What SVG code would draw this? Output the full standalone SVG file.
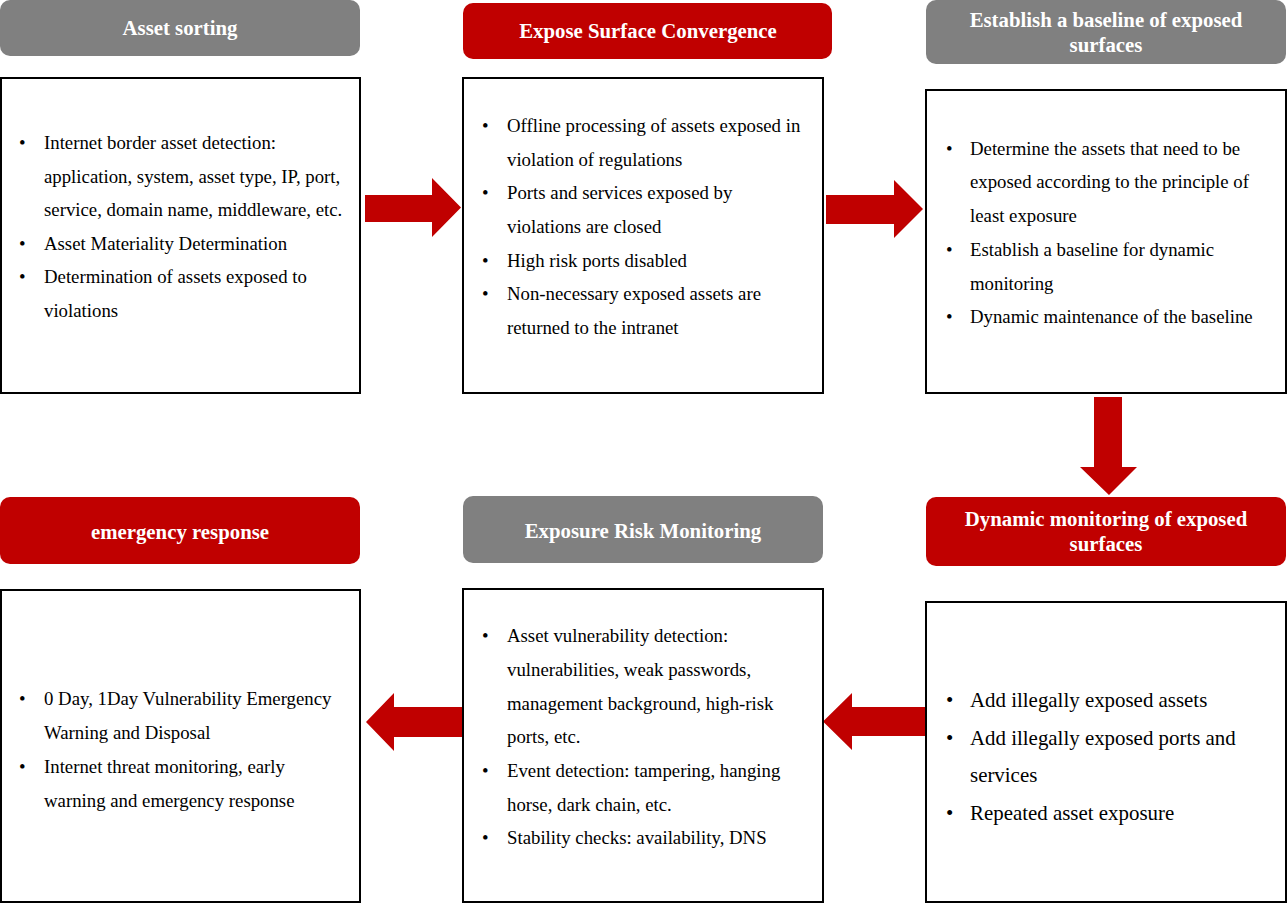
<svg xmlns="http://www.w3.org/2000/svg" width="1287" height="904" viewBox="0 0 1287 904">
<style>
.hg{fill:#808080}
.hr{fill:#C00000}
.ht{font-family:'Liberation Serif','Times New Roman',serif;font-weight:bold;font-size:20.8px;fill:#fff;text-anchor:middle}
.box{fill:#fff;stroke:#000;stroke-width:2}
.tx{font-family:'Liberation Serif','Times New Roman',serif;font-size:18.8px;fill:#000}
.tl{font-family:'Liberation Serif','Times New Roman',serif;font-size:20.9px;fill:#000}
.ar{fill:#C00000}
</style>
<rect width="1287" height="904" fill="#fff"/>
<g id="connectors">
<polygon class="ar" points="365,195 432,195 432,178 461,207.5 432,237 432,222 365,222"/>
<polygon class="ar" points="826,195 894,195 894,180 923,209 894,238 894,224 826,224"/>
<polygon class="ar" points="1094,397 1122,397 1122,467 1137,467 1109,495 1080,467 1094,467"/>
<polygon class="ar" points="925,707 852,707 852,693 823,721.5 852,750 852,736 925,736"/>
<polygon class="ar" points="462,707 394,707 394,693 366,722 394,751 394,737 462,737"/>
</g>
<g id="asset-sorting">
<rect class="hg" x="0" y="0" width="360" height="56" rx="10"/>
<text class="ht" x="180" y="35">Asset sorting</text>
<rect class="box" x="1" y="78" width="359" height="315"/>
<g class="tx">
<text x="19" y="149">•</text><text x="44" y="149">Internet border asset detection:</text>
<text x="44" y="183">application, system, asset type, IP, port,</text>
<text x="44" y="216">service, domain name, middleware, etc.</text>
<text x="19" y="250">•</text><text x="44" y="250">Asset Materiality Determination</text>
<text x="19" y="283">•</text><text x="44" y="283">Determination of assets exposed to</text>
<text x="44" y="317">violations</text>
</g>
</g>
<g id="expose-convergence">
<rect class="hr" x="463" y="3" width="369" height="56" rx="10"/>
<text class="ht" x="648" y="38">Expose Surface Convergence</text>
<rect class="box" x="463" y="78" width="360" height="315"/>
<g class="tx">
<text x="482" y="132">•</text><text x="507" y="132">Offline processing of assets exposed in</text>
<text x="507" y="166">violation of regulations</text>
<text x="482" y="199">•</text><text x="507" y="199">Ports and services exposed by</text>
<text x="507" y="233">violations are closed</text>
<text x="482" y="267">•</text><text x="507" y="267">High risk ports disabled</text>
<text x="482" y="300">•</text><text x="507" y="300">Non-necessary exposed assets are</text>
<text x="507" y="334">returned to the intranet</text>
</g>
</g>
<g id="baseline">
<rect class="hg" x="926" y="0" width="360" height="64" rx="10"/>
<text class="ht" x="1106" y="27">Establish a baseline of exposed</text>
<text class="ht" x="1106" y="52">surfaces</text>
<rect class="box" x="926" y="90" width="360" height="303"/>
<g class="tx">
<text x="946" y="155">•</text><text x="970" y="155">Determine the assets that need to be</text>
<text x="970" y="188">exposed according to the principle of</text>
<text x="970" y="222">least exposure</text>
<text x="946" y="256">•</text><text x="970" y="256">Establish a baseline for dynamic</text>
<text x="970" y="290">monitoring</text>
<text x="946" y="323">•</text><text x="970" y="323">Dynamic maintenance of the baseline</text>
</g>
</g>
<g id="dynamic-monitoring">
<rect class="hr" x="926" y="497" width="360" height="69" rx="10"/>
<text class="ht" x="1106" y="526">Dynamic monitoring of exposed</text>
<text class="ht" x="1106" y="551">surfaces</text>
<rect class="box" x="926" y="602" width="360" height="300"/>
<g class="tl">
<text x="946" y="707">•</text><text x="970" y="707">Add illegally exposed assets</text>
<text x="946" y="745">•</text><text x="970" y="745">Add illegally exposed ports and</text>
<text x="970" y="782">services</text>
<text x="946" y="820">•</text><text x="970" y="820">Repeated asset exposure</text>
</g>
</g>
<g id="risk-monitoring">
<rect class="hg" x="463" y="496" width="360" height="67" rx="10"/>
<text class="ht" x="643" y="538">Exposure Risk Monitoring</text>
<rect class="box" x="463" y="589" width="360" height="313"/>
<g class="tx">
<text x="482" y="642">•</text><text x="507" y="642">Asset vulnerability detection:</text>
<text x="507" y="676">vulnerabilities, weak passwords,</text>
<text x="507" y="710">management background, high-risk</text>
<text x="507" y="743">ports, etc.</text>
<text x="482" y="777">•</text><text x="507" y="777">Event detection: tampering, hanging</text>
<text x="507" y="811">horse, dark chain, etc.</text>
<text x="482" y="844">•</text><text x="507" y="844">Stability checks: availability, DNS</text>
</g>
</g>
<g id="emergency-response">
<rect class="hr" x="0" y="497" width="360" height="67" rx="10"/>
<text class="ht" x="180" y="539">emergency response</text>
<rect class="box" x="1" y="590" width="359" height="312"/>
<g class="tx">
<text x="19" y="705">•</text><text x="44" y="705">0 Day, 1Day Vulnerability Emergency</text>
<text x="44" y="739">Warning and Disposal</text>
<text x="19" y="773">•</text><text x="44" y="773">Internet threat monitoring, early</text>
<text x="44" y="807">warning and emergency response</text>
</g>
</g>
</svg>
